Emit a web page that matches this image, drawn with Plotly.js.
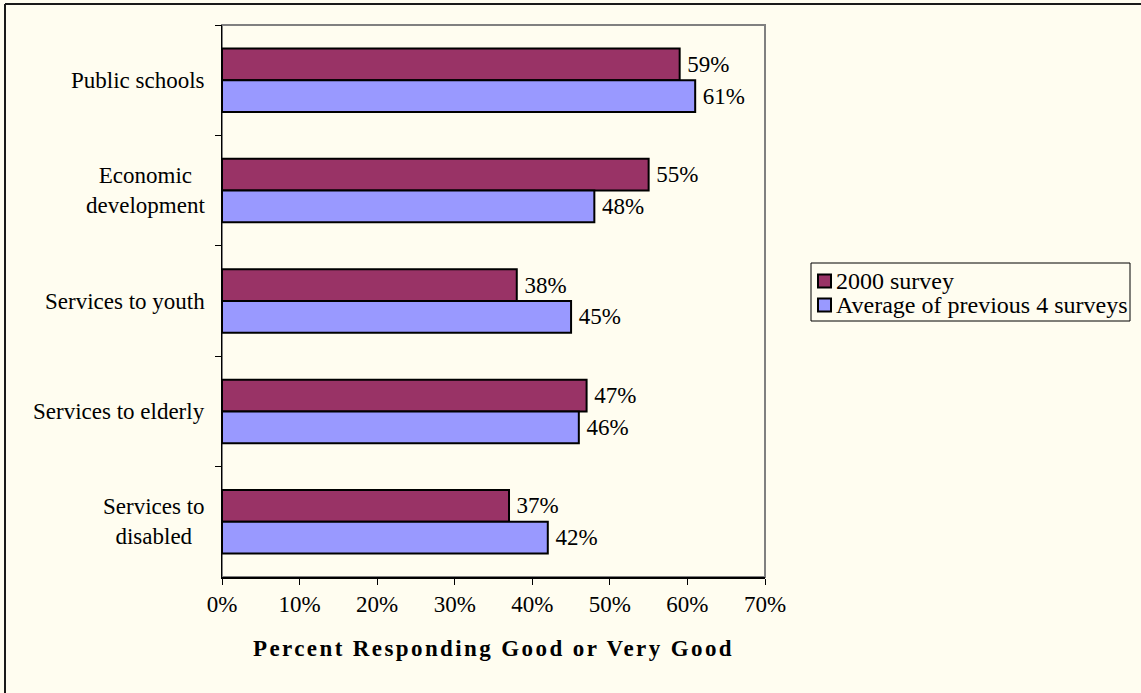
<!DOCTYPE html>
<html>
<head>
<meta charset="utf-8">
<script src="https://cdn.plot.ly/plotly-3.0.1.min.js"></script>
<style>
  html, body { margin: 0; padding: 0; background: #FFFDF0; }
  #chart { width: 1141px; height: 693px; }
  text.xtitle { letter-spacing: 2.4px; }
</style>
</head>
<body>
<div id="chart"></div>
<script>
// ---- data ----
const categories = ["Public schools", "Economic<br>development", "Services to youth", "Services to elderly", "Services to<br>disabled"];
const survey2000 = [59, 55, 38, 47, 37];
const previousAvg = [61, 48, 45, 46, 42];
const seriesNames = ["2000 survey", "Average of previous 4 surveys"];
const seriesColors = ["#993366", "#9999FF"];
const xTickVals = [0, 10, 20, 30, 40, 50, 60, 70];
const xTickText = ["0%", "10%", "20%", "30%", "40%", "50%", "60%", "70%"];
const xTitle = "Percent Responding Good or Very Good";

// ---- style ----
const W = 1141, H = 693;
const M = {l: 222, r: 376, t: 25, b: 116};
const pw = W - M.l - M.r, ph = H - M.t - M.b;
const FONT = "Liberation Serif";
const FS = 23;
const BG = "#FFFDF0";

const seriesValues = [survey2000, previousAvg];
const traces = seriesValues.map((vals, i) => ({
  type: "bar", orientation: "h", name: seriesNames[i], y: categories, x: vals,
  marker: {color: seriesColors[i], line: {color: "#000", width: 2}},
  texttemplate: "\u2009%{x}%", textposition: "outside", cliponaxis: false,
  textfont: {family: FONT, size: FS, color: "#000"}, hoverinfo: "x+y",
  showlegend: false
}));

// pixel -> paper helpers for decoration
const px = v => (v - M.l) / pw;
const py = v => (H - M.b - v) / ph;

const annotations = categories.map(c => ({
  xref: "paper", yref: "y", x: 0, y: c, xanchor: "right", yanchor: "middle",
  xshift: -15, text: c, align: "center", showarrow: false,
  font: {family: FONT, size: FS, color: "#000"}
}));

const shapes = [
  {type: "rect", xref: "paper", yref: "paper", x0: 0, x1: 1, y0: 0, y1: 1,
   line: {color: "#808080", width: 2}, layer: "below"},
  {type: "line", xref: "paper", yref: "paper", x0: px(5), x1: px(5), y0: py(4), y1: py(H + 5),
   line: {color: "#1a1a1a", width: 2}},
  {type: "line", xref: "paper", yref: "paper", x0: px(5), x1: px(W), y0: py(4), y1: py(4),
   line: {color: "#1a1a1a", width: 2}},
  // legend box
  {type: "rect", xref: "paper", yref: "paper", x0: px(811), x1: px(1130), y0: py(321), y1: py(263),
   line: {color: "#000", width: 1}, fillcolor: BG}
];

// legend entries (built from the series names and colours)
const legendRowY = [281, 305];
seriesNames.forEach((name, i) => {
  const cy = legendRowY[i];
  shapes.push({type: "rect", xref: "paper", yref: "paper",
    x0: px(818), x1: px(831), y0: py(cy + 6.5), y1: py(cy - 6.5),
    line: {color: "#000", width: 2}, fillcolor: seriesColors[i]});
  annotations.push({xref: "paper", yref: "paper", x: px(834), y: py(cy),
    xanchor: "left", yanchor: "middle", text: name, showarrow: false,
    font: {family: FONT, size: 24, color: "#000"}});
});

const layout = {
  width: W, height: H,
  margin: M,
  paper_bgcolor: BG, plot_bgcolor: BG,
  font: {family: FONT, size: FS, color: "#000"},
  barmode: "group", bargap: 0.425, bargroupgap: 0,
  showlegend: false,
  xaxis: {
    range: [0, 70], tickvals: xTickVals, ticktext: xTickText,
    showgrid: false, zeroline: false,
    showline: true, linecolor: "#000", linewidth: 1.5,
    ticks: "outside", ticklen: 6, tickcolor: "#000", tickwidth: 1,
    tickfont: {family: FONT, size: FS, color: "#000"},
    title: {text: xTitle, standoff: 24, font: {family: FONT, size: FS, color: "#000", weight: "bold"}},
    fixedrange: true
  },
  yaxis: {
    autorange: "reversed", type: "category",
    showgrid: false, zeroline: false,
    showline: true, linecolor: "#000", linewidth: 1.5,
    ticks: "outside", ticklen: 6, tickcolor: "#000", tickwidth: 1,
    tickson: "boundaries", showticklabels: false,
    fixedrange: true
  },
  annotations: annotations,
  shapes: shapes
};

Plotly.newPlot("chart", traces, layout, {displayModeBar: false, staticPlot: true});
</script>
</body>
</html>
